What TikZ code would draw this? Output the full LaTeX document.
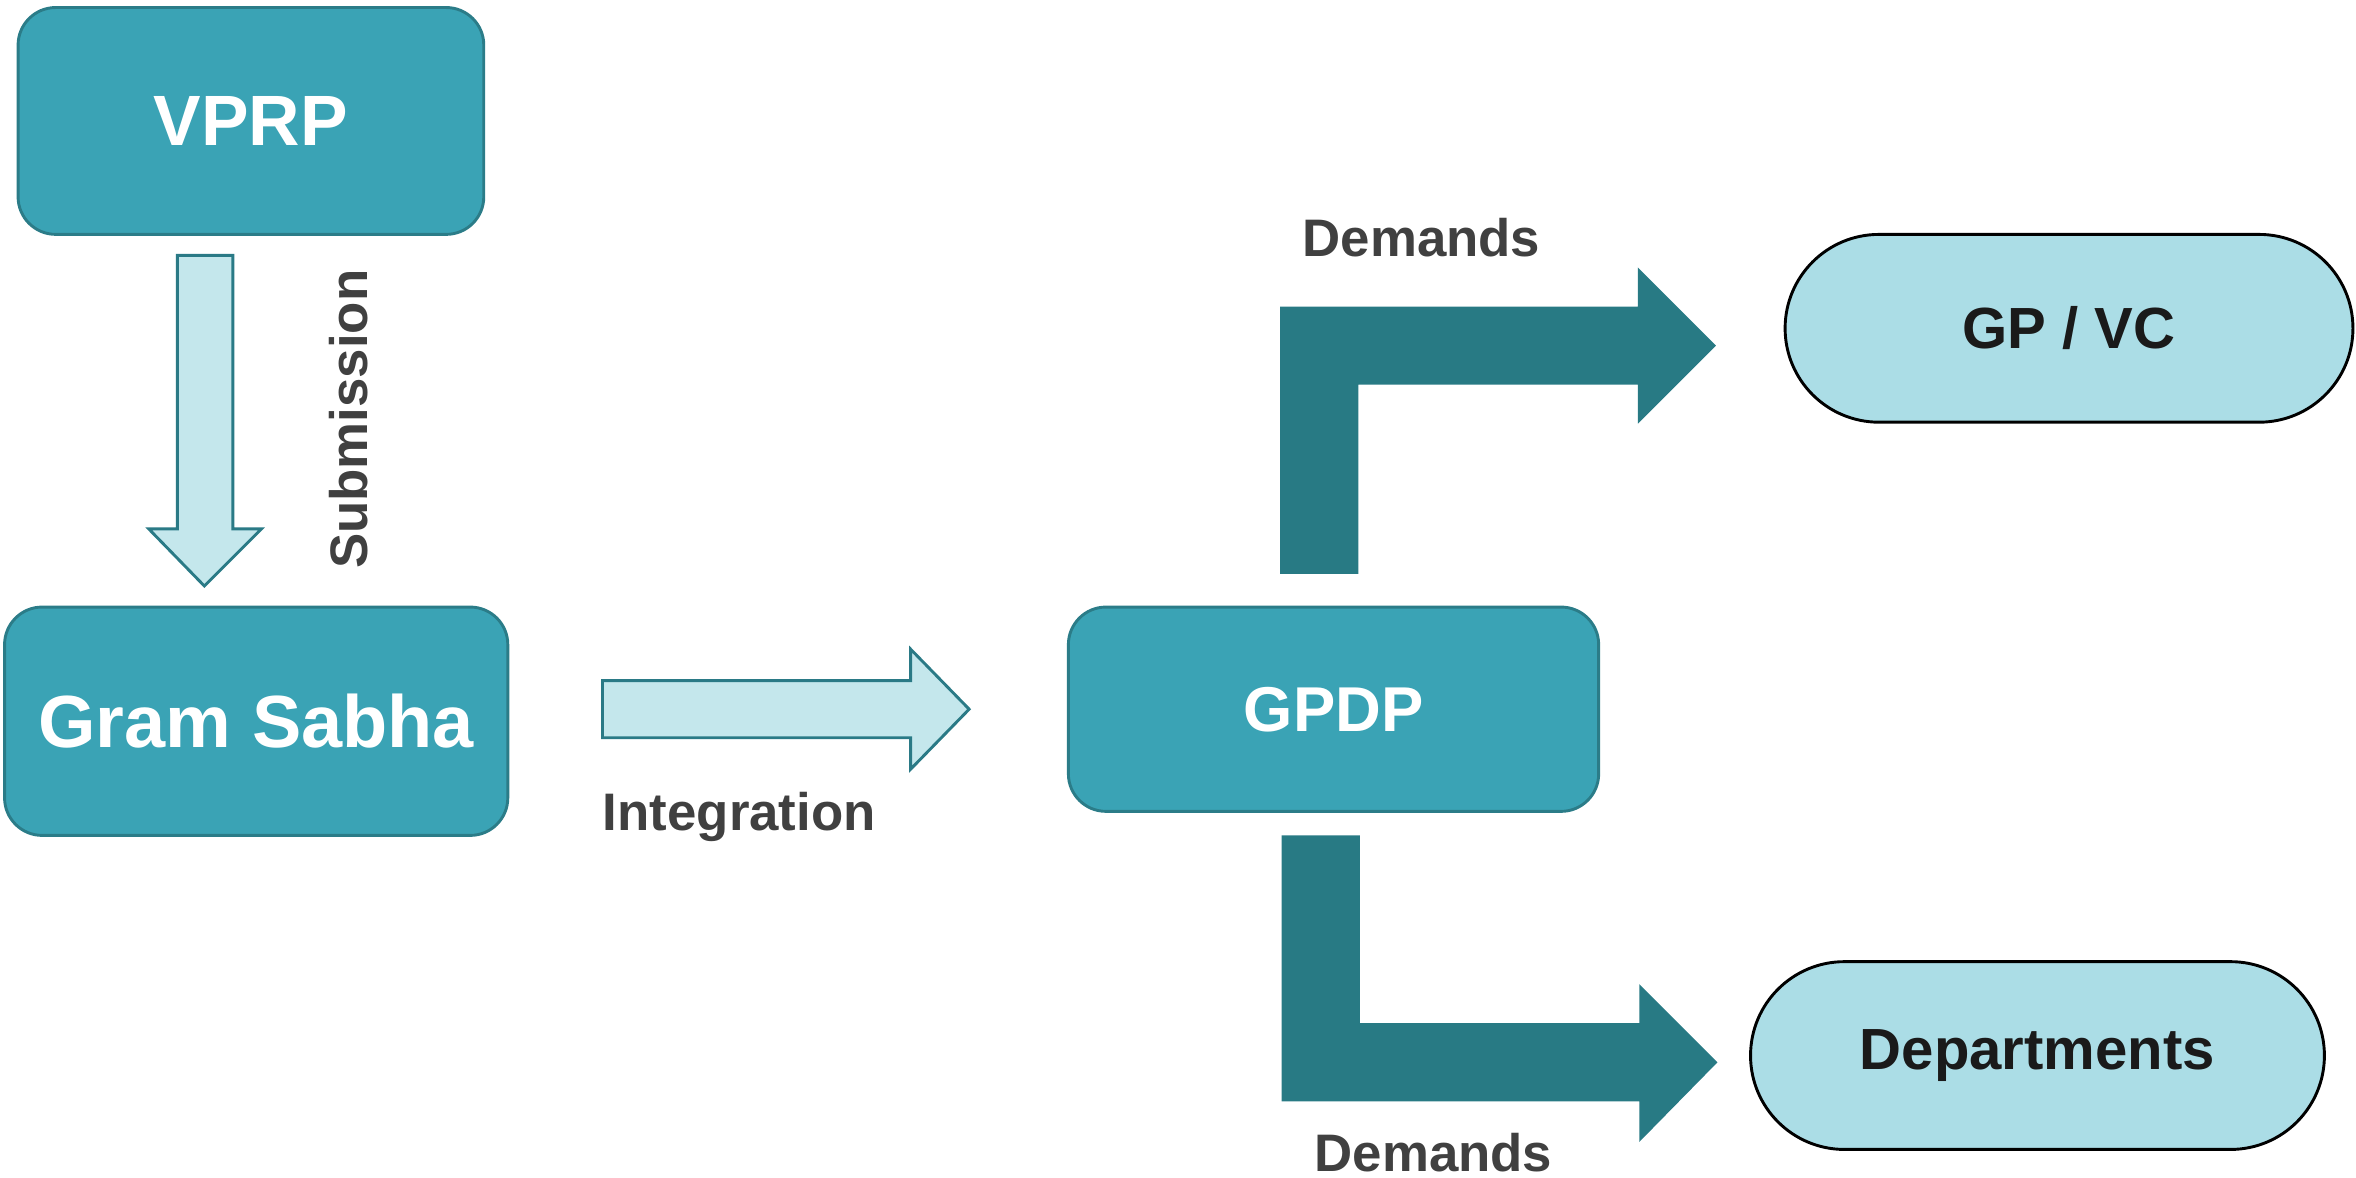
\documentclass[tikz,border=0pt]{standalone}
\usepackage{fontspec}
\setmainfont{Liberation Sans}
\definecolor{boxfill}{HTML}{3AA3B5}
\definecolor{boxline}{HTML}{2B7C88}
\definecolor{lightfill}{HTML}{C4E7EC}
\definecolor{lightline}{HTML}{2A7A86}
\definecolor{bentfill}{HTML}{287A84}
\definecolor{pillfill}{HTML}{ABDDE6}
\definecolor{labelgray}{HTML}{404040}
\definecolor{pilltext}{HTML}{1A1A1A}
\tikzset{
  darkbox/.style={draw=boxline, fill=boxfill, line width=1.1pt, rounded corners=0.5cm,
    text=white, font=\bfseries, inner sep=0pt},
  pill/.style={draw=black, fill=pillfill, line width=1.1pt, rounded corners=1.25cm,
    text=pilltext, font=\bfseries\fontsize{22}{26}\selectfont, inner sep=0pt,
    minimum height=2.5cm},
  lightarrow/.style={draw=lightline, fill=lightfill, line width=1.1pt, line join=miter},
  bentarrow/.style={fill=bentfill, draw=none},
  lbl/.style={text=labelgray, font=\bfseries\fontsize{20}{24}\selectfont, inner sep=0pt}
}
\begin{document}
\begin{tikzpicture}[x=0.02cm, y=-0.02cm]
\useasboundingbox (0,0) rectangle (1568,784);
% boxes
\node[darkbox, minimum width=6.2cm, minimum height=3.02cm,
  font=\bfseries\fontsize{27}{32}\selectfont] (vprp) at (167,80.5) {VPRP};
\node[darkbox, minimum width=6.7cm, minimum height=3.04cm,
  font=\bfseries\fontsize{28}{33}\selectfont] (gs) at (170.5,480) {Gram Sabha};
\node[darkbox, minimum width=7.06cm, minimum height=2.72cm,
  font=\bfseries\fontsize{24}{29}\selectfont] (gpdp) at (887.5,472) {GPDP};
\node[pill, minimum width=7.56cm] (gpvc) at (1377,218.5) {GP / VC};
\node[pill, minimum width=7.64cm] (dept) at (1356,702.5) {Departments};
% submission arrow
\draw[lightarrow] (118,170) -- (155,170) -- (155,352) -- (174,352) -- (136,390)
  -- (99,352) -- (118,352) -- cycle;
\node[lbl, rotate=90] (sub) at (232,279) {Submission};
% integration arrow
\draw[lightarrow] (401,453) -- (606,453) -- (606,432) -- (645,472) -- (606,512)
  -- (606,491) -- (401,491) -- cycle;
\node[lbl] (integ) at (492,544) {Integration};
% bent arrows
\fill[bentarrow] (852,382) -- (852,204) -- (1090,204) -- (1090,178) -- (1142,230)
  -- (1090,282) -- (1090,256) -- (904,256) -- (904,382) -- cycle;
\node[lbl] (dem1) at (946,158) {Demands};
\fill[bentarrow] (853,556) -- (905,556) -- (905,681) -- (1091,681) -- (1091,655)
  -- (1143,707) -- (1091,760) -- (1091,733) -- (853,733) -- cycle;
\node[lbl] (dem2) at (954,767) {Demands};
\end{tikzpicture}
\end{document}
